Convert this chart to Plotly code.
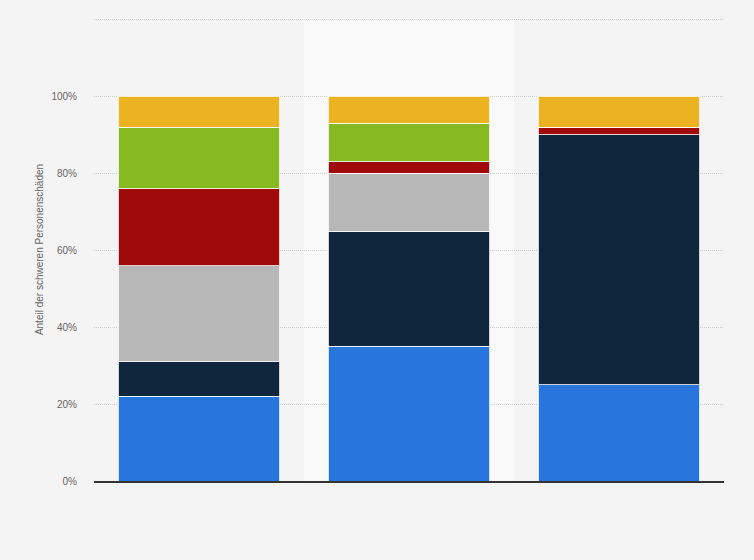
import plotly.graph_objects as go

# categories (no x labels shown in the chart)
categories = ["Gruppe 1", "Gruppe 2", "Gruppe 3"]

# stacked shares in percent, bottom to top
series_names = ["Serie 1", "Serie 2", "Serie 3", "Serie 4", "Serie 5", "Serie 6"]
series_values = [
    [22, 35, 25],
    [9, 30, 65],
    [25, 15, 0],
    [20, 3, 2],
    [16, 10, 0],
    [8, 7, 8],
]
series_colors = ["#2876dd", "#10263d", "#b7b7b7", "#a10a0a", "#87b923", "#ebb322"]

y_ticks = [0, 20, 40, 60, 80, 100, 120]
y_tick_labels = ["0%", "20%", "40%", "60%", "80%", "100%", ""]

fig = go.Figure()
for name, vals, col in zip(series_names, series_values, series_colors):
    fig.add_trace(go.Bar(
        x=categories, y=vals, name=name,
        marker=dict(color=col, line=dict(color="rgba(255,255,255,0.8)", width=1)),
    ))

# highlighted middle column
fig.add_shape(type="rect", xref="x", yref="paper", x0=0.5, x1=1.5, y0=0, y1=1,
              fillcolor="#f9f9f9", line_width=0, layer="below")

fig.update_layout(
    barmode="stack",
    bargap=0.23,
    width=754, height=560,
    margin=dict(l=94, r=30, t=18, b=79),
    paper_bgcolor="#f4f4f4",
    plot_bgcolor="#f4f4f4",
    showlegend=False,
    font=dict(family="Liberation Sans, Arial, sans-serif", size=10, color="#666666"),
)
fig.update_xaxes(showticklabels=False, showgrid=False, zeroline=False,
                 showline=True, linecolor="#333333", linewidth=1.5,
                 range=[-0.5, 2.5])
fig.update_yaxes(range=[0, 120.4], tickvals=y_ticks, ticktext=y_tick_labels,
                 showgrid=True, gridcolor="#cfcfcf", griddash="1px,1px", gridwidth=1,
                 zeroline=False, ticks="", ticklabelstandoff=16,
                 title=dict(text="Anteil der schweren Personenschäden",
                            font=dict(size=10, color="#666666"), standoff=5))

fig.write_html("out.html", config={"displayModeBar": False},
               post_script="document.body.style.margin='0';")
